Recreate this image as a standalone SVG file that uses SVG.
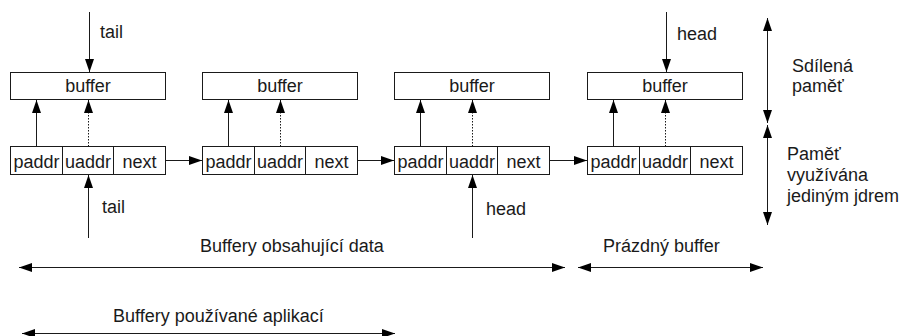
<svg xmlns="http://www.w3.org/2000/svg" width="901" height="336" viewBox="0 0 901 336">
  <style>
    text { font-family: "Liberation Sans", Arial, sans-serif; font-size: 18px; fill: #1a1a1a; }
    .c { text-anchor: middle; }
    .box { fill: #ffffff; stroke: #1a1a1a; stroke-width: 1; }
    .ln { fill: none; stroke: #1a1a1a; stroke-width: 1; }
    .dot { fill: none; stroke: #1a1a1a; stroke-width: 1; stroke-dasharray: 1.5 1.5; }
  </style>
  <defs>
    <marker id="ah" markerUnits="userSpaceOnUse" markerWidth="13" markerHeight="9" refX="13" refY="4.5" orient="auto-start-reverse">
      <path d="M0,0 L13,4.5 L0,9 z" fill="#000"/>
    </marker>
  </defs>

  <!-- buffers in shared memory -->
  <g id="buffer1"><rect class="box" x="10.5" y="72.5" width="155" height="27"/><text class="c" x="88" y="92">buffer</text></g>
  <g id="buffer2"><rect class="box" x="202.5" y="72.5" width="155" height="27"/><text class="c" x="280" y="92">buffer</text></g>
  <g id="buffer3"><rect class="box" x="394.5" y="72.5" width="155" height="27"/><text class="c" x="472" y="92">buffer</text></g>
  <g id="buffer4"><rect class="box" x="587.5" y="72.5" width="155" height="27"/><text class="c" x="665" y="92">buffer</text></g>

  <!-- descriptor records: paddr | uaddr | next -->
  <g id="record1">
    <rect class="box" x="10.5" y="146.5" width="155" height="28"/>
    <path class="ln" d="M62.5,146.5 V174.5 M113.5,146.5 V174.5"/>
    <text class="c" x="36.5" y="168">paddr</text><text class="c" x="88" y="168">uaddr</text><text class="c" x="139.5" y="168">next</text>
  </g>
  <g id="record2">
    <rect class="box" x="202.5" y="146.5" width="155" height="28"/>
    <path class="ln" d="M254.5,146.5 V174.5 M305.5,146.5 V174.5"/>
    <text class="c" x="228.5" y="168">paddr</text><text class="c" x="280" y="168">uaddr</text><text class="c" x="331.5" y="168">next</text>
  </g>
  <g id="record3">
    <rect class="box" x="394.5" y="146.5" width="155" height="28"/>
    <path class="ln" d="M446.5,146.5 V174.5 M497.5,146.5 V174.5"/>
    <text class="c" x="420.5" y="168">paddr</text><text class="c" x="472" y="168">uaddr</text><text class="c" x="523.5" y="168">next</text>
  </g>
  <g id="record4">
    <rect class="box" x="587.5" y="146.5" width="155" height="28"/>
    <path class="ln" d="M639.5,146.5 V174.5 M690.5,146.5 V174.5"/>
    <text class="c" x="613.5" y="168">paddr</text><text class="c" x="665" y="168">uaddr</text><text class="c" x="716.5" y="168">next</text>
  </g>

  <g id="connectors">
    <!-- paddr pointers -->
    <line class="ln" x1="36.5" y1="146.5" x2="36.5" y2="100" marker-end="url(#ah)"/>
    <line class="ln" x1="228.5" y1="146.5" x2="228.5" y2="100" marker-end="url(#ah)"/>
    <line class="ln" x1="420.5" y1="146.5" x2="420.5" y2="100" marker-end="url(#ah)"/>
    <line class="ln" x1="613.5" y1="146.5" x2="613.5" y2="100" marker-end="url(#ah)"/>
    <!-- uaddr pointers -->
    <line class="dot" x1="88.5" y1="146.5" x2="88.5" y2="100" marker-end="url(#ah)"/>
    <line class="dot" x1="280.5" y1="146.5" x2="280.5" y2="100" marker-end="url(#ah)"/>
    <line class="dot" x1="472.5" y1="146.5" x2="472.5" y2="100" marker-end="url(#ah)"/>
    <line class="dot" x1="665.5" y1="146.5" x2="665.5" y2="100" marker-end="url(#ah)"/>
    <!-- next links -->
    <line class="ln" x1="165.5" y1="160.5" x2="202" y2="160.5" marker-end="url(#ah)"/>
    <line class="ln" x1="357.5" y1="160.5" x2="394" y2="160.5" marker-end="url(#ah)"/>
    <line class="ln" x1="549.5" y1="160.5" x2="587" y2="160.5" marker-end="url(#ah)"/>
    <!-- tail / head pointers -->
    <line class="ln" x1="89.5" y1="12" x2="89.5" y2="72" marker-end="url(#ah)"/>
    <line class="ln" x1="666.5" y1="12" x2="666.5" y2="72" marker-end="url(#ah)"/>
    <line class="ln" x1="88.5" y1="238" x2="88.5" y2="175" marker-end="url(#ah)"/>
    <line class="ln" x1="472.5" y1="238" x2="472.5" y2="175" marker-end="url(#ah)"/>
    <!-- memory ranges -->
    <line class="ln" x1="767.5" y1="18" x2="767.5" y2="123" marker-start="url(#ah)" marker-end="url(#ah)"/>
    <line class="ln" x1="767.5" y1="125" x2="767.5" y2="225" marker-start="url(#ah)" marker-end="url(#ah)"/>
    <!-- buffer ranges -->
    <line class="ln" x1="19" y1="267.5" x2="565" y2="267.5" marker-start="url(#ah)" marker-end="url(#ah)"/>
    <line class="ln" x1="578" y1="267.5" x2="763" y2="267.5" marker-start="url(#ah)" marker-end="url(#ah)"/>
    <line class="ln" x1="22" y1="333.5" x2="395" y2="333.5" marker-start="url(#ah)" marker-end="url(#ah)"/>
  </g>

  <!-- labels -->
  <text x="100" y="38">tail</text>
  <text x="677" y="40">head</text>
  <text x="102" y="213">tail</text>
  <text x="486" y="215">head</text>
  <text x="792" y="72">Sdílená</text>
  <text x="792" y="92">paměť</text>
  <text x="787" y="160">Paměť</text>
  <text x="787" y="181">využívána</text>
  <text x="787" y="202">jediným jdrem</text>
  <text x="200" y="252">Buffery obsahující data</text>
  <text x="603" y="252">Prázdný buffer</text>
  <text x="113" y="322">Buffery používané aplikací</text>
</svg>
